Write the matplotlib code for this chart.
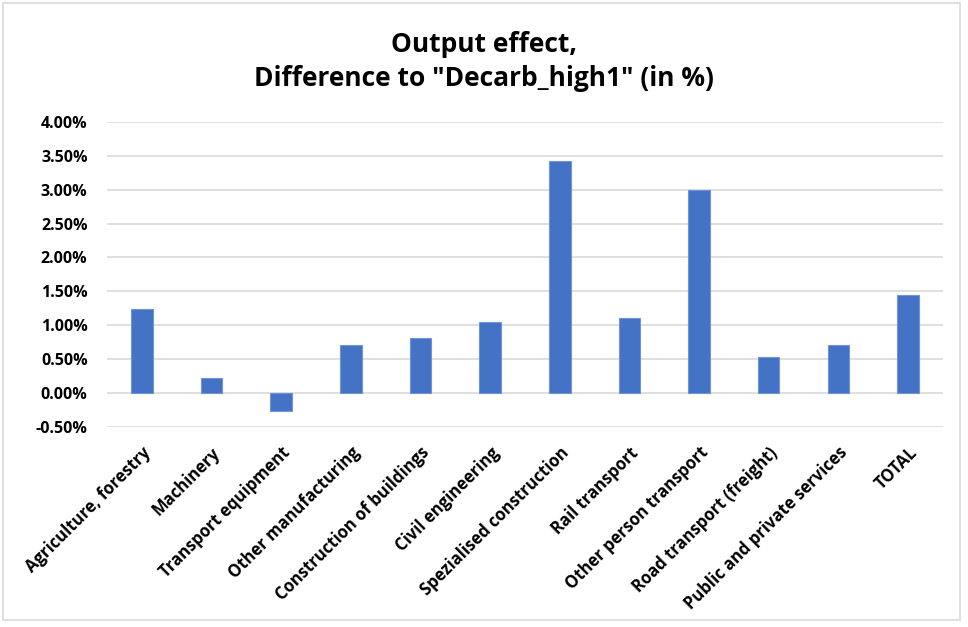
import matplotlib.pyplot as plt
from matplotlib.patches import Rectangle
from matplotlib.ticker import FuncFormatter, MultipleLocator

plt.rcParams['font.family'] = ['Open Sans', 'DejaVu Sans']

# sectors and output effect (% difference to Decarb_high1)
sectors = ['Agriculture, forestry', 'Machinery', 'Transport equipment',
           'Other manufacturing', 'Construction of buildings', 'Civil engineering',
           'Spezialised construction', 'Rail transport', 'Other person transport',
           'Road transport (freight)', 'Public and private services', 'TOTAL']
effect = [1.245, 0.22, -0.26, 0.71, 0.81, 1.05, 3.42, 1.11, 3.00, 0.53, 0.71, 1.45]

fig = plt.figure(figsize=(9.68, 6.27), dpi=100)
ax = fig.add_axes([0.1105, 0.319, 0.8635, 0.4866])

x = range(len(sectors))
ax.bar(x, effect, width=0.31, color='#4472C4', edgecolor='#6f95d8', linewidth=0.8, zorder=3)

ax.set_xlim(-0.5, len(sectors) - 0.5)
ax.set_ylim(-0.5, 4.0)
ax.yaxis.set_major_locator(MultipleLocator(0.5))
ax.yaxis.set_major_formatter(FuncFormatter(lambda v, p: f'{v:.2f}%'))
ax.grid(axis='y', color='#d9d9d9', linewidth=1.2, zorder=0)
for s in ax.spines.values():
    s.set_visible(False)
ax.tick_params(length=0)
ax.tick_params(axis='y', pad=14)
for lab in ax.get_yticklabels():
    lab.set_fontweight('bold')
    lab.set_fontsize(11.5)

ax.set_xticks(list(x))
ax.set_xticklabels(sectors, rotation=45, ha='right', rotation_mode='anchor',
                   fontsize=12, fontweight='bold')
ax.tick_params(axis='x', pad=12)

fig.text(0.5, 0.902, 'Output effect,\nDifference to "Decarb_high1" (in %)',
         ha='center', va='center', fontsize=19, fontweight='bold',
         linespacing=1.3)

# chart border
fig.patches.append(Rectangle((0.003, 0.011), 0.989, 0.985, transform=fig.transFigure,
                             fill=False, edgecolor='#d9d9d9', linewidth=1.2))

fig.savefig('out.png', dpi=100)
